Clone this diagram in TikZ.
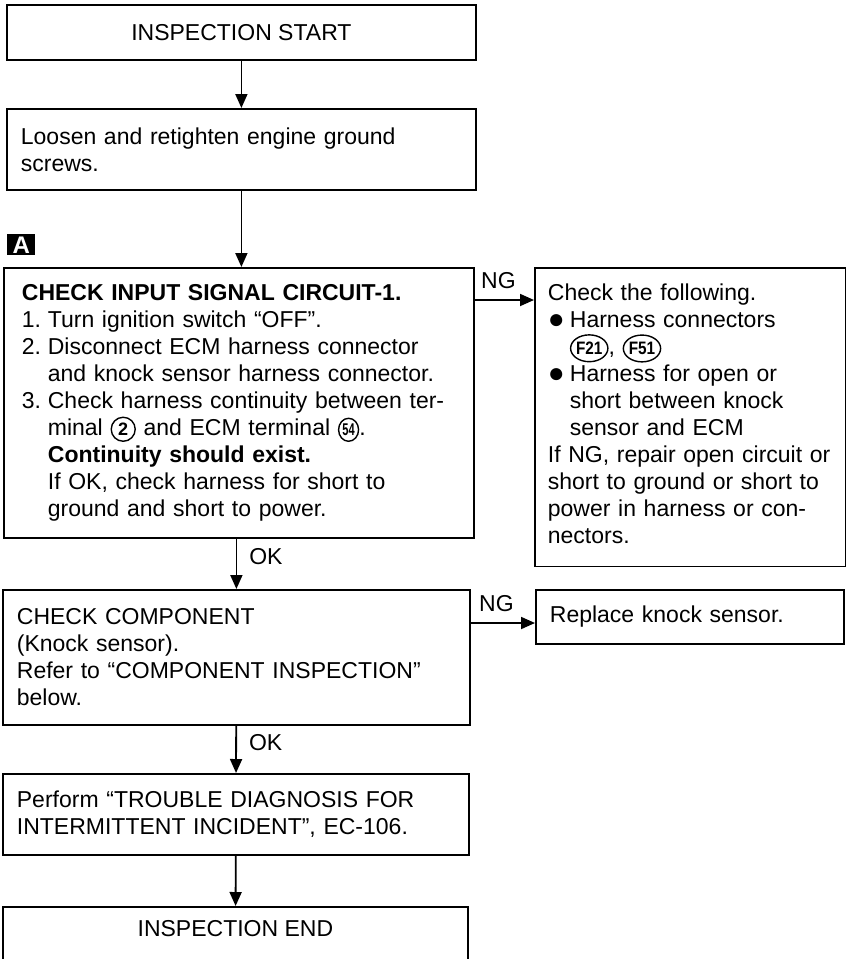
\documentclass[tikz,border=0pt]{standalone}
\usepackage{fontspec}
\usepackage{graphicx}
\setmainfont{Liberation Sans}
\usetikzlibrary{arrows.meta,calc,shapes.geometric}
\newcommand{\flowfont}{\fontsize{11.5pt}{13.5pt}\selectfont}
\newcommand{\termno}[1]{\tikz[baseline=(tn.base)]\node[circle,draw,line width=0.7pt,inner sep=0pt,minimum size=12pt,text width={},align=center,font=\fontsize{9pt}{9pt}\selectfont\bfseries](tn){#1};}
\newcommand{\ecmno}[1]{\tikz[baseline=(en.base)]\node[ellipse,draw,line width=0.7pt,inner sep=0pt,minimum width=10pt,minimum height=11.5pt,text width={},align=center,font=\fontsize{8.5pt}{8.5pt}\selectfont\bfseries](en){\scalebox{0.65}[1]{#1}};}
\newcommand{\connno}[1]{\tikz[baseline=(cn.base)]\node[ellipse,draw,line width=0.7pt,inner xsep=0pt,inner ysep=1.6pt,minimum width=0pt,minimum height=0pt,text width={},align=center,font=\fontsize{9pt}{9pt}\selectfont\bfseries](cn){\scalebox{0.85}[1]{#1}};}
\newcommand{\blt}{\raisebox{-0.6pt}{\fontsize{14pt}{13.5pt}\selectfont●}}

\begin{document}
\begin{tikzpicture}[x=0.5pt,y=-0.5pt,>={Triangle[length=7pt,width=6pt]},
  stepbox/.style={draw,line width=0.9pt,anchor=north west,inner xsep=7pt,inner ysep=0pt,font=\flowfont},
  edgelabel/.style={font=\flowfont,inner sep=2pt}]
\useasboundingbox (0,0) rectangle (846,959);
\node[stepbox,minimum width=234.5pt,minimum height=27.5pt,align=center] (start) at (6,4) {INSPECTION START};
\node[stepbox,minimum width=234.5pt,minimum height=40.5pt,text width=220.5pt,align=left] (loosen) at (6,108) {Loosen and retighten engine ground\\screws.};
\node[fill=black,text=white,anchor=north west,minimum width=14pt,minimum height=10.5pt,inner sep=0pt,font=\fontsize{12pt}{12pt}\selectfont\bfseries] (marker) at (7,234) {A};
\node[stepbox,inner xsep=9pt,minimum width=235pt,minimum height=135pt,text width=217pt,align=left] (inputchk) at (3,267) {\textbf{CHECK INPUT SIGNAL CIRCUIT-1.}\\
\makebox[13pt][l]{1.}Turn ignition switch “OFF”.\\
\makebox[13pt][l]{2.}Disconnect ECM harness connector\\
\hspace*{13pt}and knock sensor harness connector.\\
\makebox[13pt][l]{3.}Check harness continuity between ter-\\
\hspace*{13pt}minal \termno{2} and ECM terminal \ecmno{54}.\\
\hspace*{13pt}\textbf{Continuity should exist.}\\
\hspace*{13pt}If OK, check harness for short to\\
\hspace*{13pt}ground and short to power.};
\node[stepbox,inner xsep=6.5pt,inner ysep=8pt,text depth=125pt,minimum width=155.5pt,text width=142.5pt,align=left] (repair) at (534,267) {Check the following.\\
\makebox[11pt][l]{\blt}Harness connectors\\
\hspace*{11pt}\connno{F21}, \connno{F51}\\
\makebox[11pt][l]{\blt}Harness for open or\\
\hspace*{11pt}short between knock\\
\hspace*{11pt}sensor and ECM\\
If NG, repair open circuit or\\
short to ground or short to\\
power in harness or con-\\
nectors.};
\node[stepbox,minimum width=233.5pt,minimum height=67.5pt,text width=219.5pt,align=left] (comp) at (2,589) {CHECK COMPONENT\\(Knock sensor).\\Refer to “COMPONENT INSPECTION”\\below.};
\node[stepbox,minimum width=154pt,minimum height=27pt,text width=140pt,align=left] (replace) at (535,589) {Replace knock sensor.};
\node[stepbox,minimum width=233pt,minimum height=40.5pt,text width=219pt,align=left] (perform) at (2,773) {Perform “TROUBLE DIAGNOSIS FOR\\INTERMITTENT INCIDENT”, EC-106.};
\node[stepbox,minimum width=232.5pt,inner ysep=7pt,text height=8pt,text depth=30pt,align=center] (finish) at (2,906) {INSPECTION END};
\draw[->,line width=0.9pt] (start) -- (loosen);
\draw[->,line width=0.9pt] (loosen.south) -- (loosen.south |- inputchk.north);
\draw[->,line width=0.9pt] ($(inputchk.north east)+(0,33)$) coordinate (ng1) -- (ng1 -| repair.west) node[edgelabel,pos=0.4,above,yshift=3pt] {NG};
\draw[->,line width=0.9pt] (inputchk.south -| comp.north) -- (comp.north) node[edgelabel,pos=0.35,right,xshift=4pt] {OK};
\draw[->,line width=0.9pt] ($(comp.north east)+(0,34)$) coordinate (ng2) -- (ng2 -| replace.west) node[edgelabel,pos=0.4,above,yshift=3pt] {NG};
\draw[->,line width=0.9pt] (comp) -- (perform) node[edgelabel,pos=0.35,right,xshift=4pt] {OK};
\draw[->,line width=0.9pt] (perform) -- (finish);
\end{tikzpicture}
\end{document}
